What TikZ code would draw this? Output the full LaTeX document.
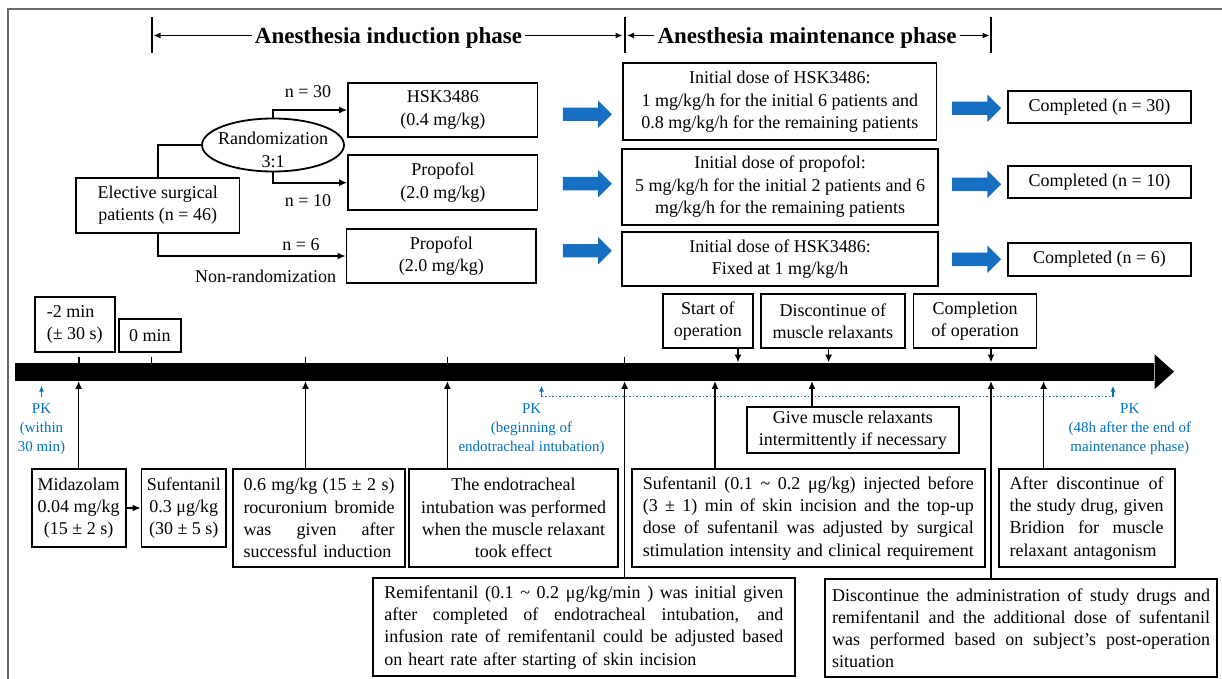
\documentclass[tikz,border=0pt]{standalone}
\usepackage{fontspec}
\setmainfont{Liberation Serif}
\usetikzlibrary{arrows.meta,shapes.geometric,shapes.arrows,calc}
\definecolor{pkblue}{RGB}{0,112,192}
\definecolor{arrblue}{RGB}{22,111,193}
\definecolor{framegray}{RGB}{105,105,105}
\newcommand{\jline}[2]{\leavevmode\hbox to #1{\spaceskip=0.25em plus 1fil\xspaceskip=0.25em plus 1fil\relax #2}}
\begin{document}
\begin{tikzpicture}[x=1pt,y=-1pt,
  every node/.style={font=\fontsize{18}{22.3}\selectfont},
  box/.style={draw, line width=1.8pt, inner sep=0pt, align=center},
  jbox/.style={box, align=left},
  con/.style={line width=1.6pt, -{Latex[length=8pt,width=7pt]}},
  plain/.style={line width=1.6pt},
  hdrarrow/.style={line width=1.3pt, -{Latex[length=7pt,width=6pt]}},
  pk/.style={text=pkblue, font=\fontsize{15}{19}\selectfont, align=center, inner sep=0pt},
  pkarrow/.style={pkblue, line width=1.3pt, -{Latex[length=6pt,width=5pt]}},
  bigarrow/.style={single arrow, fill=arrblue, draw=none, minimum height=49pt, minimum width=27pt, single arrow head extend=7pt, single arrow head indent=0pt, inner xsep=0pt, inner ysep=6.5pt},
  hdr/.style={font=\fontsize{23}{26}\selectfont\bfseries, inner sep=3pt, anchor=base},
]
\useasboundingbox (0,0) rectangle (1222,679);

% frame
\draw[framegray, line width=1.5pt] (8,679) -- (8,9) -- (1222,9);

% header
\node[hdr] (h1) at (388.5,44) {Anesthesia induction phase};
\node[hdr] (h2) at (807,44) {Anesthesia maintenance phase};
\coordinate (bL) at (152,35.5);
\coordinate (bM) at (625,35.5);
\coordinate (bR) at (991,35.5);
\draw[plain] (152,17) -- (152,53);
\draw[plain] (625,17) -- (625,53);
\draw[plain] (991,17) -- (991,53);
\draw[hdrarrow] (h1.west |- bL) -- ([xshift=1.5pt]bL);
\draw[hdrarrow] (h1.east |- bM) -- ([xshift=-2.5pt]bM);
\draw[hdrarrow] (h2.west |- bM) -- ([xshift=2pt]bM);
\draw[hdrarrow] (h2.east |- bR) -- ([xshift=-1.5pt]bR);

% flowchart
\node[box, minimum width=163.5pt, minimum height=55pt] (elect) at (157.8,205.5) {Elective surgical\\patients (n = 46)};
\node[ellipse, draw, line width=1.8pt, minimum width=142pt, minimum height=53pt, inner sep=0pt] (rand) at (273,145) {};
\node[align=center, inner sep=0pt] (randtxt) at (273,150) {Randomization\\3:1};
\node[box, minimum width=189.5pt, minimum height=54.6pt] (hsk) at (442.8,110) {HSK3486\\(0.4 mg/kg)};
\node[box, minimum width=189.5pt, minimum height=54.7pt] (prop1) at (442.8,182.7) {Propofol\\(2.0 mg/kg)};
\node[box, minimum width=189.5pt, minimum height=54.6pt] (prop2) at (441.3,256) {Propofol\\(2.0 mg/kg)};

\draw[plain] (elect.north) |- (rand.west);
\draw[con] (rand.north) |- (hsk.west);
\draw[con] (rand.south) |- (prop1.west);
\draw[con] (elect.south) |- (prop2.west);

\node (n30) at (308,92) {n = 30};
\node (n10) at (308,201) {n = 10};
\node (n6) at (301,245) {n = 6};
\node (nonr) at (265.6,276) {Non-randomization};

% blue arrows
\node[bigarrow] (ba1) at (584,114.3) {};
\node[bigarrow] (ba2) at (584,183.7) {};
\node[bigarrow] (ba3) at (584,250.7) {};
\node[bigarrow] (bb1) at (973.3,108.3) {};
\node[bigarrow] (bb2) at (973.3,184.3) {};
\node[bigarrow] (bb3) at (973.3,259.3) {};

% maintenance
\node[box, minimum width=313.5pt, minimum height=76.7pt] (m1) at (779.8,101.7) {Initial dose of HSK3486:\\1 mg/kg/h for the initial 6 patients and\\0.8 mg/kg/h for the remaining patients};
\node[box, minimum width=316pt, minimum height=76pt] (m2) at (780,186.7) {Initial dose of propofol:\\5 mg/kg/h for the initial 2 patients and 6\\mg/kg/h for the remaining patients};
\node[box, minimum width=316pt, minimum height=54pt] (m3) at (780,259) {Initial dose of HSK3486:\\Fixed at 1 mg/kg/h};

\node[box, minimum width=183pt, minimum height=32.3pt] (c1) at (1099.5,107.2) {Completed (n = 30)};
\node[box, minimum width=183pt, minimum height=32.6pt] (c2) at (1099.5,182) {Completed (n = 10)};
\node[box, minimum width=183pt, minimum height=32.6pt] (c3) at (1099.5,259.3) {Completed (n = 6)};

% timeline
\node[fill=black, inner sep=0pt, minimum width=1139.8pt, minimum height=18pt] (tl) at (584.5,371.7) {};
\fill ([yshift=8.2pt]tl.north east) -- ([xshift=19.4pt]tl.east) -- ([yshift=-8.2pt]tl.south east) -- cycle;
\foreach \x in {79,151.4,305.5,447.4,624.6} \draw[plain] (\x,356.7) -- (\x,363);

% boxes above timeline
\node[box, minimum width=79.6pt, minimum height=55pt, align=left] (mtwo) at (74.8,324.2) {-2 min\\(± 30 s)};
\node[box, minimum width=62.4pt, minimum height=32.4pt] (zero) at (149.8,335.5) {0 min};
\node[box, minimum width=90pt, minimum height=54.3pt] (sop) at (707.8,321.2) {Start of\\operation};
\node[box, minimum width=144pt, minimum height=54.3pt] (dmr) at (832.8,321.2) {Discontinue of\\muscle relaxants};
\node[box, minimum width=123pt, minimum height=54.3pt] (cop) at (975,321.2) {Completion\\of operation};
\foreach \n/\s in {sop/30.2, dmr/-4.2, cop/16} {
  \coordinate (tmp) at ([xshift=\s pt]\n.south);
  \draw[con] (tmp) -- (tmp |- tl.north);
}

% PK
\node[pk] (pk1) at (41.5,429.5) {PK\\(within\\30 min)};
\node[pk] (pk2) at (531.6,429.5) {PK\\(beginning of\\endotracheal intubation)};
\node[pk] (pk3) at (1129.8,429.5) {PK\\(48h after the end of\\maintenance phase)};
\coordinate (pa1) at (41.5,396.7);
\coordinate (pa2) at (541.5,396.7);
\coordinate (pa3) at (1113,396.7);
\draw[pkblue, line width=1.5pt, dash pattern=on 1.5pt off 2pt] (pa2) -- (pa3);
\draw[pkarrow] (pa1) -- ++(0,-11);
\draw[pkarrow] (pa2) -- ++(0,-11);
\draw[pkarrow] (pa3) -- ++(0,-11);

% give box
\node[box, minimum width=212.2pt, minimum height=46.6pt] (give) at (852.9,430) {Give muscle relaxants\\intermittently if necessary};

% bottom boxes
\node[box, minimum width=94.1pt, minimum height=77.4pt] (midaz) at (78.65,508) {Midazolam\\0.04 mg/kg\\(15 ± 2 s)};
\node[box, minimum width=84.5pt, minimum height=77.4pt] (sufe) at (183.75,508) {Sufentanil\\0.3 μg/kg\\(30 ± 5 s)};
\draw[con] (midaz.east) -- (sufe.west);

\node[jbox, minimum width=172pt, minimum height=97.7pt, text width=151pt] (r06) at (319,518.2)
  {\jline{151pt}{0.6 mg/kg (15 ± 2 s)}\\\jline{151pt}{rocuronium bromide}\\\jline{151pt}{was given after}\\successful induction};
\node[box, minimum width=209pt, minimum height=97.7pt] (endo) at (513.5,518.2)
  {The endotracheal\\intubation was performed\\when the muscle relaxant\\took effect};
\node[jbox, minimum width=422.3pt, minimum height=97.7pt, text width=399pt] (remi) at (583.85,627.2)
  {\jline{399pt}{Remifentanil (0.1 \textasciitilde{} 0.2 μg/kg/min ) was initial given}\\\jline{399pt}{after completed of endotracheal intubation, and}\\\jline{399pt}{infusion rate of remifentanil could be adjusted based}\\on heart rate after starting of skin incision};
\node[jbox, minimum width=353.3pt, minimum height=97.7pt, text width=331pt] (sufe2) at (808.35,518.2)
  {\jline{331pt}{Sufentanil (0.1 \textasciitilde{} 0.2 μg/kg) injected before}\\\jline{331pt}{(3 ± 1) min of skin incision and the top-up}\\\jline{331pt}{dose of sufentanil was adjusted by surgical}\\\jline{331pt}{stimulation intensity and clinical requirement}};
\node[jbox, minimum width=175.8pt, minimum height=97.7pt, text width=154pt] (after) at (1086.7,518.2)
  {\jline{154pt}{After discontinue of}\\\jline{154pt}{the study drug, given}\\\jline{154pt}{Bridion for muscle}\\relaxant antagonism};
\node[jbox, minimum width=392pt, minimum height=98.3pt, text width=378pt] (disc) at (1021,628.2)
  {\jline{378pt}{Discontinue the administration of study drugs and}\\\jline{378pt}{remifentanil and the additional dose of sufentanil}\\\jline{378pt}{was performed based on subject's post-operation}\\situation};

\foreach \n/\s in {midaz/0, r06/-13.5, endo/-66.1, remi/40.75, sufe2/-93.35, give/-40.9, disc/-30, after/-43.1} {
  \coordinate (tmp) at ([xshift=\s pt]\n.north);
  \draw[con] (tmp) -- (tmp |- tl.south);
}
\end{tikzpicture}
\end{document}
